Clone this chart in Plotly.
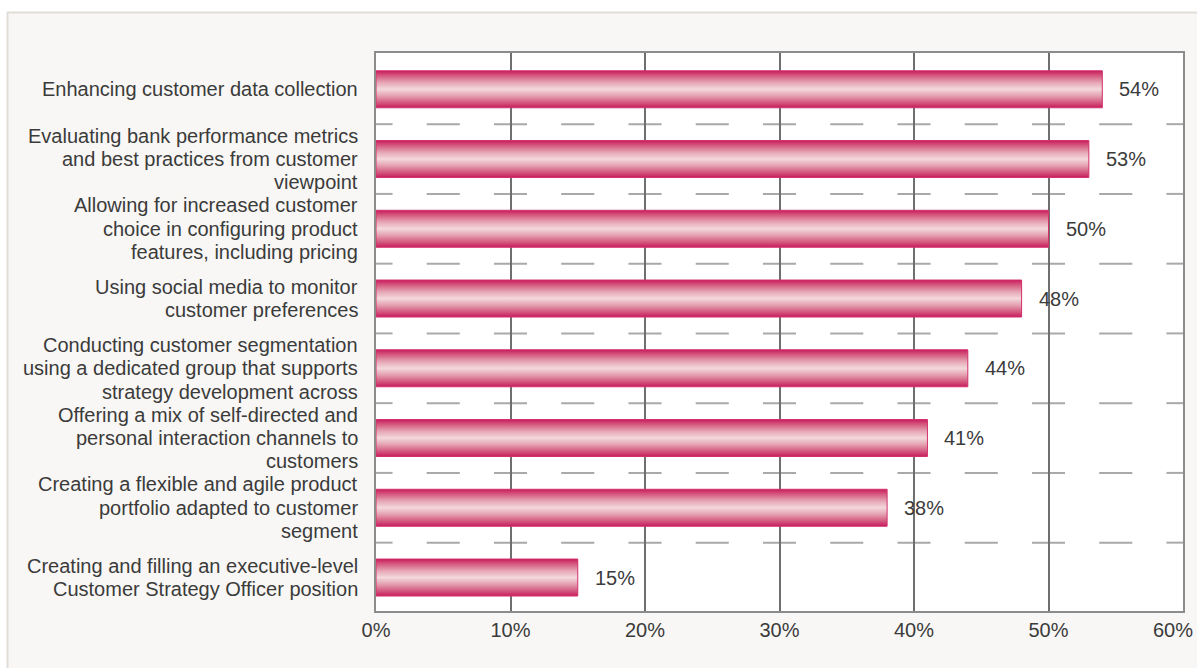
import plotly.graph_objects as go

# Survey results: share of respondents naming each customer-strategy initiative
categories = [
    "Enhancing customer data collection",
    "Evaluating bank performance metrics<br>and best practices from customer<br>viewpoint",
    "Allowing for increased customer<br>choice in configuring product<br>features, including pricing",
    "Using social media to monitor<br>customer preferences",
    "Conducting customer segmentation<br>using a dedicated group that supports<br>strategy development across",
    "Offering a mix of self-directed and<br>personal interaction channels to<br>customers",
    "Creating a flexible and agile product<br>portfolio adapted to customer<br>segment",
    "Creating and filling an executive-level<br>Customer Strategy Officer position",
]
values = [54, 53, 50, 48, 44, 41, 38, 15]
x_ticks = [0, 10, 20, 30, 40, 50, 60]
x_tick_text = ["0%", "10%", "20%", "30%", "40%", "50%", "60%"]

# ---- styling -------------------------------------------------------------
W, H = 1197, 668
M_L, M_R, M_T, M_B = 376, 14, 53, 57
FONT = "Liberation Sans, Arial, sans-serif"
TXT = "#3b3b3b"
FS = 20
LINE_GAP = 23.3
BAR_HALF = 0.265
PANEL = "#f8f7f5"

bar_scale = [
    [0.00, "#c81c5c"],
    [0.12, "#d2507a"],
    [0.32, "#e4a0b0"],
    [0.50, "#f3d8dc"],
    [0.68, "#e6a6b5"],
    [0.88, "#d4547c"],
    [1.00, "#c81c5c"],
]

fig = go.Figure()

# Bars drawn as filled polygons so they can carry a vertical gradient
for i, v in enumerate(values):
    fig.add_trace(go.Scatter(
        x=[0, v, v, 0, 0],
        y=[i - BAR_HALF, i - BAR_HALF, i + BAR_HALF, i + BAR_HALF, i - BAR_HALF],
        mode="lines",
        fill="toself",
        fillgradient=dict(type="vertical", colorscale=bar_scale),
        line=dict(color="#d3306c", width=1),
        hoverinfo="skip",
        showlegend=False,
    ))

annotations = []
# value labels at the end of each bar
for i, v in enumerate(values):
    annotations.append(dict(
        x=v, y=i, xref="x", yref="y", text=f"{v}%", showarrow=False,
        xanchor="left", yanchor="middle", xshift=15,
        font=dict(family=FONT, size=FS, color=TXT),
    ))

# category labels, one annotation per line for custom line spacing
for i, lab in enumerate(categories):
    lines = lab.split("<br>")
    n = len(lines)
    for j, ln in enumerate(lines):
        annotations.append(dict(
            x=0, y=i, xref="paper", yref="y", text=ln, showarrow=False,
            xanchor="right", yanchor="middle", xshift=-16,
            yshift=-(j - (n - 1) / 2) * LINE_GAP,
            font=dict(family=FONT, size=FS, color=TXT),
        ))

# last x tick label is right-aligned so it stays inside the page
annotations.append(dict(
    x=x_ticks[-1], y=0, xref="x", yref="paper", text=x_tick_text[-1],
    showarrow=False, xanchor="right", yanchor="middle", xshift=12, yshift=-19,
    font=dict(family=FONT, size=FS, color=TXT),
))
axis_tick_text = x_tick_text[:-1] + [""]

shapes = []
# dashed separators between categories: a short dash centred on every 5% step
half_dash = 1.23
for k in range(len(categories) - 1):
    yb = k + 0.5
    for s in range(0, 61, 5):
        shapes.append(dict(
            type="line", xref="x", yref="y",
            x0=max(0, s - half_dash), x1=min(60, s + half_dash), y0=yb, y1=yb,
            line=dict(color="#a9a9a9", width=2), layer="below",
        ))

# outer panel: white strip above/left of the light panel, with a soft edge
pw = W - M_L - M_R
ph = H - M_T - M_B
def px(xp):
    return (xp - M_L) / pw
def py(yp):
    return (H - M_B - yp) / ph

shapes.append(dict(type="rect", xref="paper", yref="paper",
                   x0=px(-5), x1=px(W + 5), y0=py(12), y1=py(-5),
                   fillcolor="white", line=dict(width=0), layer="below"))
shapes.append(dict(type="rect", xref="paper", yref="paper",
                   x0=px(-5), x1=px(7), y0=py(H + 5), y1=py(-5),
                   fillcolor="white", line=dict(width=0), layer="below"))
shapes.append(dict(type="line", xref="paper", yref="paper",
                   x0=px(7), x1=px(W + 5), y0=py(12.5), y1=py(12.5),
                   line=dict(color="#e2ddd8", width=2), layer="below"))
shapes.append(dict(type="line", xref="paper", yref="paper",
                   x0=px(7.5), x1=px(7.5), y0=py(12), y1=py(H + 5),
                   line=dict(color="#e2ddd8", width=2), layer="below"))

fig.update_layout(
    width=W, height=H,
    autosize=False,
    margin=dict(l=M_L, r=M_R, t=M_T, b=M_B, pad=0, autoexpand=False),
    paper_bgcolor=PANEL,
    plot_bgcolor="white",
    showlegend=False,
    annotations=annotations,
    shapes=shapes,
    xaxis=dict(
        range=[0, 60], tickmode="array", tickvals=x_ticks, ticktext=axis_tick_text,
        showgrid=True, gridcolor="#6f6f6f", gridwidth=2,
        zeroline=False, showline=True, linecolor="#8c8c8c", linewidth=2,
        mirror=True, ticks="", ticklabelstandoff=0, automargin=False,
        ticklabeloverflow="allow",
        tickfont=dict(family=FONT, size=FS, color=TXT),
        fixedrange=True,
    ),
    yaxis=dict(
        range=[7.48, -0.52], showgrid=False, zeroline=False,
        showticklabels=False, ticks="", automargin=False,
        showline=True, linecolor="#8c8c8c", linewidth=2, mirror=True,
        fixedrange=True,
    ),
)

fig.write_html("out.html")
